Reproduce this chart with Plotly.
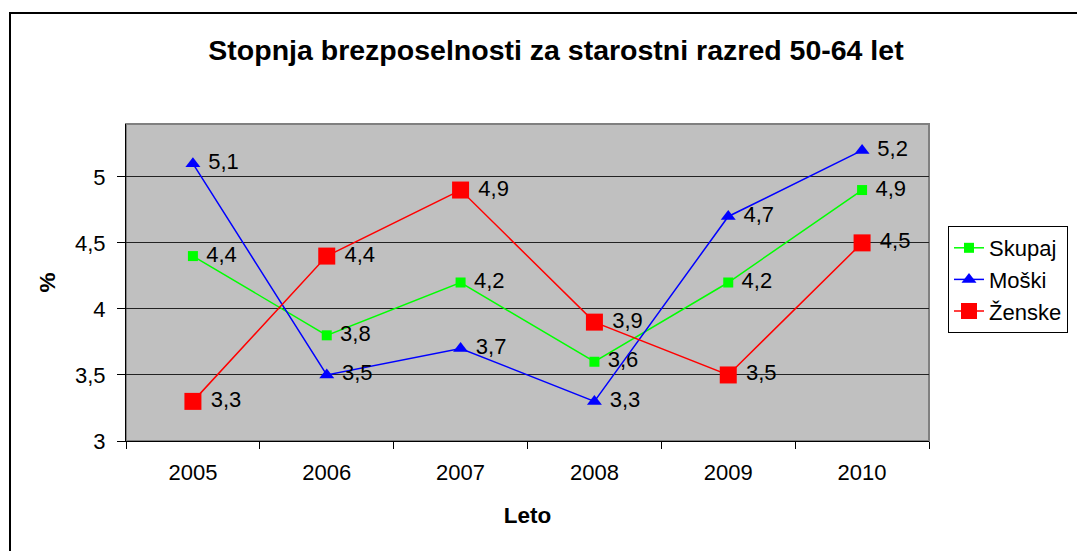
import plotly.graph_objects as go

years = ["2005", "2006", "2007", "2008", "2009", "2010"]
skupaj = [4.4, 3.8, 4.2, 3.6, 4.2, 4.9]
moski = [5.1, 3.5, 3.7, 3.3, 4.7, 5.2]
zenske = [3.3, 4.4, 4.9, 3.9, 3.5, 4.5]

FONT = "Liberation Sans, Arial, sans-serif"

# plot-area geometry (screenshot px, page has an 8px body offset)
OFF = 8
PL, PR, PT, PB = 126, 929, 124, 441
W, H = 1085, 551
PW, PH = PR - PL, PB - PT

fig = go.Figure()

def add(name, vals, color, symbol, size):
    fig.add_trace(go.Scatter(
        x=years, y=vals, name=name, mode="lines+markers+text",
        line=dict(color=color, width=1.5),
        marker=dict(color=color, symbol=symbol, size=size, line=dict(width=0)),
        text=["\u00a0" + f"{v:.1f}".replace(".", ",") for v in vals],
        textposition="middle right",
        textfont=dict(family=FONT, size=22, color="black"),
        cliponaxis=False,
    ))

add("Skupaj", skupaj, "#00FF00", "square", 10)
add("Moški", moski, "#0000FF", "triangle-up", 13)
add("Ženske", zenske, "#FF0000", "square", 17)

fig.update_layout(
    width=W, height=H,
    margin=dict(l=PL - OFF, r=W - (PR - OFF), t=PT - OFF, b=H - (PB - OFF)),
    paper_bgcolor="white", plot_bgcolor="#C0C0C0",
    separators=",.",
    font=dict(family=FONT, size=22, color="black"),
    title=dict(text="<b>Stopnja brezposelnosti za starostni razred 50-64 let</b>",
               x=(556 - OFF) / W, xanchor="center", y=1 - (50 - OFF) / H, yanchor="middle",
               font=dict(family=FONT, size=28.5, color="black")),
    showlegend=True,
    legend=dict(x=(948 - PL) / PW, y=(PB - 226) / PH, xanchor="left", yanchor="top",
                bordercolor="black", borderwidth=1, bgcolor="white",
                font=dict(family=FONT, size=22, color="black"),
                tracegroupgap=0, itemsizing="trace"),
    xaxis=dict(type="category", tickson="boundaries", ticks="outside", ticklen=7,
               tickcolor="black", showline=True, linecolor="black", linewidth=1,
               mirror=False, showgrid=False, range=[-0.5, 5.5],
               ticklabelstandoff=12,
               tickfont=dict(family=FONT, size=22),
               title=dict(text="<b>Leto</b>", font=dict(family=FONT, size=22.5), standoff=22)),
    yaxis=dict(range=[3, 5.4], dtick=0.5, tick0=3, ticks="outside", ticklen=8,
               tickcolor="black", showline=True, linecolor="black", linewidth=1,
               showgrid=True, gridcolor="#222222", gridwidth=1, zeroline=False,
               ticklabelstandoff=7,
               tickfont=dict(family=FONT, size=22),
               title=dict(text="<b>%</b>", font=dict(family=FONT, size=22.5), standoff=13)),
)

# plot area border (top/right gray)
fig.add_shape(type="rect", xref="paper", yref="paper", x0=0, y0=0, x1=1, y1=1,
              line=dict(color="#808080", width=2), layer="below")
# outer chart border
fig.add_shape(type="rect", xref="paper", yref="paper",
              x0=(10 - PL) / PW, y0=(PB - 13) / PH, x1=1.5, y1=-0.6,
              line=dict(color="black", width=2))

fig.write_html("out.html")
